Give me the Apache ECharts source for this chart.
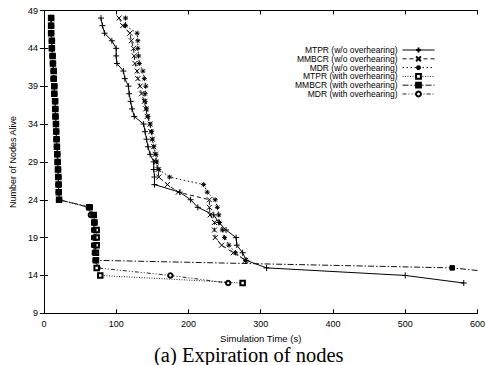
<!DOCTYPE html>
<html>
<head>
<meta charset="utf-8">
<script src="https://cdn.jsdelivr.net/npm/echarts@6/dist/echarts.min.js"></script>
<style>
html,body{margin:0;padding:0;background:#fff;}
#chart{width:488px;height:365px;}
</style>
</head>
<body>
<div id="chart"></div>
<script>
// ---- data ----
const seriesNames = [
  "MTPR (w/o overhearing)",
  "MMBCR (w/o overhearing)",
  "MDR (w/o overhearing)",
  "MTPR (with overhearing)",
  "MMBCR (with overhearing)",
  "MDR (with overhearing)"
];
const xTicks = [0, 100, 200, 300, 400, 500, 600];
const yTicks = [9, 14, 19, 24, 29, 34, 39, 44, 49];

// MTPR w/o overhearing
const mtprWoY = [48,47,46,45,44,43,42,41,40,39,38,37,36,35,34,33,32,31,30,29,28,27,26,25,24,23,22,21,20,19,18,17,16,15,14,13];
const mtprWoX = [79,81,84,94,100,100,101,110,112,117,118,120,122,125,138,140,142,144,147,152,152,153,153,188,203,213,235,242,252,266,267,275,280,308,500,581];

// MMBCR w/o overhearing
const mmbcrWoY = [48,47,46,45,44,43,42,41,40,39,38,37,36,35,34,33,32,31,30,29,28,27,26,25,24,23,22,21,20,19,18,17,16];
const mmbcrWoX = [104,109,119,121,124,125,126,129,130,133,135,139,141,143,147,148,150,152,154,155,158,159,171,186,229,229,230,236,236,237,246,262,279];

// MDR w/o overhearing
const mdrWoY = [48,47,46,45,44,43,42,41,40,39,38,37,36,35,34,33,32,31,30,29,28,27,26,25,24,23,22,21,20,19,18,17,16];
const mdrWoX = [113,113,129,130,130,131,132,137,139,141,140,140,142,144,147,149,150,152,155,156,159,174,221,226,237,240,242,243,247,250,256,265,279];

// MTPR with overhearing
const mtprWithY = [48,47,46,45,44,43,42,41,40,39,38,37,36,35,34,33,32,31,30,29,28,27,26,25,24,23,22,21,20,19,18,17,16,15,14,13];
const mtprWithX = [10,10,10,11,11,12,12.5,13.5,13.5,14.4,14.4,15.5,15.8,16,16.7,17,17.5,18,18.5,19,19.5,20,20.3,20.5,21,63,69,70,73,73,73,72,72,73,78,275];

// MMBCR with overhearing
const mmbcrWithY = [48,47,46,45,44,43,42,41,40,39,38,37,36,35,34,33,32,31,30,29,28,27,26,25,24,23,22,21,20,19,18,17,16,15,14];
const mmbcrWithX = [10,10,10,11,11,12,12.5,13.5,13.5,14.4,14.4,15.5,15.8,16,16.7,17,17.5,18,18.5,19,19.5,20,20.3,20.5,21,64,68,69,69,69,69,70,71,565,665];

// MDR with overhearing
const mdrWithY = [48,47,46,45,44,43,42,41,40,39,38,37,36,35,34,33,32,31,30,29,28,27,26,25,24,23,22,21,20,19,18,17,16,15,14,13];
const mdrWithX = [10,10,10,11,11,12,12.5,13.5,13.5,14.4,14.4,15.5,15.8,16,16.7,17,17.5,18,18.5,19,19.5,20,20.3,20.5,21,62,65,70,70,71,71,71,72,74,175,255];

// ---- helpers ----
function pairs(xs, ys) { return xs.map((x, i) => [x, ys[i]]); }

const PLUS = 'path://M0,5L10,5M5,0L5,10';
const CROSS = 'path://M0,0L10,10M10,0L0,10';
const STAR = 'path://M0,5L10,5M5,0L5,10M1.5,1.5L8.5,8.5M8.5,1.5L1.5,8.5';

const sans = "'Liberation Sans', Arial, Helvetica, sans-serif";

function mkSeries(name, data, symbol, size, dash, z, lineColor) {
  return {
    name: name,
    type: 'line',
    data: data,
    z: z,
    symbol: symbol,
    symbolSize: size,
    showSymbol: true,
    clip: true,
    lineStyle: { color: lineColor, width: 1, type: dash },
    itemStyle: { color: '#000', borderColor: '#000', borderWidth: 1 },
    emphasis: { disabled: true },
    animation: false
  };
}

const chart = echarts.init(document.getElementById('chart'), null, { renderer: 'svg' });

const axisCommon = {
  type: 'value',
  splitLine: { show: false },
  axisLine: { show: true, lineStyle: { color: '#000', width: 1 } },
  axisTick: { show: true, inside: true, length: 4, lineStyle: { color: '#000' } }
};

chart.setOption({
  animation: false,
  backgroundColor: '#fff',
  textStyle: { fontFamily: sans },
  grid: { left: 43.5, right: 8, top: 10.5, bottom: 51.7, containLabel: false },
  xAxis: [
    Object.assign({}, axisCommon, {
      position: 'bottom', min: xTicks[0], max: xTicks[xTicks.length - 1], interval: 100,
      name: 'Simulation Time (s)', nameLocation: 'middle', nameGap: 17,
      nameTextStyle: { fontSize: 9.5, color: '#000', fontFamily: sans, lineHeight: 10 },
      axisLabel: { show: true, margin: 6, fontSize: 9, color: '#000', fontFamily: sans }
    }),
    Object.assign({}, axisCommon, {
      position: 'top', min: xTicks[0], max: xTicks[xTicks.length - 1], interval: 100,
      axisLabel: { show: false }
    })
  ],
  yAxis: [
    Object.assign({}, axisCommon, {
      position: 'left', min: yTicks[0], max: yTicks[yTicks.length - 1], interval: 5,
      name: 'Number of Nodes Alive', nameLocation: 'middle', nameGap: 21, nameRotate: 90,
      nameTextStyle: { fontSize: 9, color: '#000', fontFamily: sans },
      axisLabel: { show: true, margin: 6, fontSize: 9, color: '#000', fontFamily: sans }
    }),
    Object.assign({}, axisCommon, {
      position: 'right', min: yTicks[0], max: yTicks[yTicks.length - 1], interval: 5,
      axisLabel: { show: false }
    })
  ],
  legend: {
    orient: 'vertical',
    align: 'right',
    right: 53,
    top: 45.5,
    padding: 0,
    itemWidth: 32,
    itemHeight: 6,
    itemGap: -0.2,
    selectedMode: false,
    lineStyle: { width: 1 },
    textStyle: { fontSize: 8.5, color: '#000', fontFamily: sans, lineHeight: 7.6 },
    data: seriesNames
  },
  series: [
    mkSeries(seriesNames[0], pairs(mtprWoX, mtprWoY), PLUS, 6, 'solid', 7, '#000'),
    mkSeries(seriesNames[1], pairs(mmbcrWoX, mmbcrWoY), CROSS, 5, [4, 3], 6, '#111'),
    mkSeries(seriesNames[2], pairs(mdrWoX, mdrWoY), STAR, 5, [1.5, 2.5], 5, '#111'),
    mkSeries(seriesNames[3], pairs(mtprWithX, mtprWithY), 'emptyRect', 4.5, [1, 1.5], 3, '#222'),
    mkSeries(seriesNames[4], pairs(mmbcrWithX, mmbcrWithY), 'rect', 4.5, [6, 2, 1.5, 2], 4, '#111'),
    mkSeries(seriesNames[5], pairs(mdrWithX, mdrWithY), 'emptyCircle', 4.5, [4, 2, 1, 2, 1, 2], 2, '#222')
  ],
  graphic: [{
    type: 'text',
    left: 154,
    top: 344,
    style: {
      text: '(a) Expiration of nodes',
      fontSize: 20.5,
      lineHeight: 16,
      fontFamily: "'Liberation Serif', 'Times New Roman', serif",
      fill: '#000'
    }
  }]
});
</script>
</body>
</html>
